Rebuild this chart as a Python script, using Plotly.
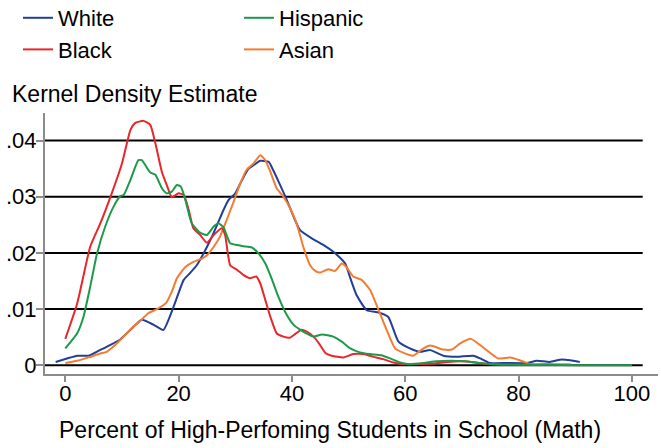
import plotly.graph_objects as go

# ---------------- data ----------------
white_x = [-1.7, 0.3, 2.1, 4.1, 5.9, 7.9, 9.7, 11.8, 13.5, 15.6, 17.3, 19.1, 20.9, 22.0, 23.2, 24.4,
           25.6, 26.8, 27.9, 28.8, 30.0, 31.2, 32.3, 33.5, 34.4, 35.9, 36.7, 37.9, 39.1, 40.3, 41.4,
           43.5, 45.6, 47.3, 49.4, 50.3, 51.4, 53.2, 55.3, 57.0, 58.8, 60.8, 62.6, 64.4, 66.7, 69.1,
           72.0, 73.5, 75.0, 78.0, 81.4, 83.2, 85.5, 87.3, 89.1, 90.8]
white_y = [.0006, .0012, .0017, .0017, .0026, .0036, .0046, .0066, .0081, .0072, .0063, .0104, .0152,
           .0164, .0178, .0199, .0223, .0250, .0276, .0294, .0306, .0330, .0349, .0358, .0364, .0362,
           .0347, .0321, .0294, .0264, .0241, .0226, .0214, .0202, .0181, .0155, .0125, .0098, .0094,
           .0086, .0042, .0030, .0024, .0027, .0017, .0015, .0017, .0011, .0004, .0004, .0004, .0008,
           .0006, .0010, .0009, .0006]

black_x = [0, 2.1, 4.4, 6.2, 8.2, 10.0, 11.5, 12.3, 13.8, 15.0, 15.9, 17.05, 17.9, 18.8, 20.0, 20.9,
           21.8, 22.6, 23.8, 25.0, 26.2, 27.6, 28.2, 29.1, 30.3, 31.4, 32.6, 33.7, 34.4, 35.3, 36.2,
           37.3, 38.5, 39.6, 40.6, 41.6, 42.6, 43.8, 44.7, 45.9, 47.0, 49.1, 50.8, 52.6, 54.4, 56.1,
           57.9, 59.7, 62.0, 65.0, 67.5, 70.0, 72.5, 75.0, 78.0, 82.0, 86.0]
black_y = [.0047, .0110, .0211, .0253, .0306, .0359, .0419, .0431, .0435, .0428, .0395, .0344, .0321,
           .0299, .0306, .0303, .0276, .0244, .0232, .0218, .0232, .0244, .0232, .0178, .0170, .0161,
           .0155, .0158, .0146, .0116, .0086, .0057, .0051, .0049, .0056, .0063, .0060, .0051, .0040,
           .0022, .0017, .0014, .0020, .0020, .0015, .0011, .0005, .0002, .0002, .0003, .0006, .0007,
           .0005, .0002, .0001, .0001, .0001]

hisp_x = [0, 2.1, 3.2, 4.4, 5.6, 7.05, 8.5, 9.7, 10.3, 11.5, 12.9, 13.5, 15.0, 15.9, 17.05, 17.9,
          18.8, 19.7, 20.4, 21.2, 22.3, 23.8, 25.0, 26.2, 27.0, 27.9, 29.1, 30.3, 31.4, 32.9, 34.1,
          35.3, 36.5, 37.6, 38.8, 40.3, 41.5, 42.5, 43.8, 45.3, 47.3, 48.8, 50.3, 52.0, 53.8, 55.8,
          57.6, 59.4, 60.8, 63.2, 65.5, 68.0, 70.5, 73.0, 76.0, 80.0, 85.0, 90.0, 95.0, 100.0]
hisp_y = [.0030, .0057, .0086, .0140, .0199, .0247, .0282, .0301, .0303, .0330, .0365, .0365, .0343,
          .0339, .0315, .0306, .0309, .0321, .0318, .0294, .0253, .0236, .0232, .0247, .0253, .0246,
          .0217, .0214, .0212, .0210, .0199, .0181, .0152, .0122, .0095, .0072, .0063, .0057, .0051,
          .0055, .0051, .0042, .0030, .0023, .0020, .0018, .0011, .0004, .0002, .0004, .0007, .0008,
          .0007, .0004, .0002, .0001, .0001, 0.0, 0.0, 0.0]

asian_x = [0, 2.1, 4.1, 6.2, 7.3, 8.8, 10.3, 12.0, 13.2, 14.7, 16.2, 17.8, 18.8, 19.7, 21.2, 22.6,
           24.1, 25.0, 26.2, 27.3, 28.5, 29.7, 30.9, 32.0, 33.2, 34.4, 35.3, 36.2, 37.3, 38.5, 39.7,
           40.9, 42.0, 43.2, 44.1, 45.0, 46.4, 47.6, 48.8, 49.6, 50.8, 52.3, 53.8, 55.3, 56.7, 58.2,
           59.7, 61.4, 62.9, 64.4, 66.7, 68.2, 69.7, 71.6, 73.2, 75.0, 76.4, 78.5, 80.2, 82.0, 85.5,
           89.2]
asian_y = [.0004, .0008, .0014, .0021, .0024, .0036, .0051, .0069, .0079, .0093, .0100, .0111, .0131,
           .0155, .0175, .0184, .0190, .0196, .0211, .0229, .0259, .0291, .0324, .0348, .0359, .0374,
           .0365, .0344, .0315, .0300, .0279, .0250, .0211, .0178, .0168, .0165, .0171, .0168, .0181,
           .0175, .0158, .0152, .0134, .0098, .0063, .0030, .0022, .0017, .0028, .0035, .0028, .0028,
           .0039, .0047, .0036, .0022, .0012, .0014, .0009, .0002, .0002, .0002]

x_ticks = [0, 20, 40, 60, 80, 100]
y_ticks = [0, 0.01, 0.02, 0.03, 0.04]
y_ticktext = ["0", ".01", ".02", ".03", ".04"]

x_title = "Percent of High-Perfoming Students in School (Math)"
y_title = "Kernel Density Estimate"

# ---------------- style ----------------
FONT = "Liberation Sans, Arial, sans-serif"
FS = 22
C_WHITE = "#223f98"
C_BLACK = "#e8262b"
C_HISP = "#1c9a4a"
C_ASIAN = "#f47b30"
AXIS_GRAY = "#8c8c8c"

X_RANGE = [-3.58, 104.6]
Y_RANGE = [-0.00155, 0.0449]
GRID_END = 101.9

ML, MT, MB, MR = 45, 113, 74, 3
PW, PH = 661 - ML - MR, 448 - MT - MB


def px_x(px):
    return (px - ML) / PW


def px_y(py):
    return 1 + (MT - py) / PH


fig = go.Figure()

series = [
    ("White", white_x, white_y, C_WHITE, "legend", 1),
    ("Asian", asian_x, asian_y, C_ASIAN, "legend2", 2),
    ("Black", black_x, black_y, C_BLACK, "legend", 2),
    ("Hispanic", hisp_x, hisp_y, C_HISP, "legend2", 1),
]
for name, xs, ys, col, leg, rank in series:
    fig.add_trace(go.Scatter(
        x=xs, y=ys, mode="lines", name=name,
        line=dict(color=col, width=2, shape="spline", smoothing=0.5),
        legend=leg, legendrank=rank,
    ))

# horizontal grid lines (black) that stop just beyond x = 100
for v in y_ticks:
    fig.add_shape(type="line", xref="x", yref="y", x0=X_RANGE[0], x1=GRID_END, y0=v, y1=v,
                  line=dict(color="black", width=2), layer="below")

legend_common = dict(
    orientation="v", xref="paper", yref="paper",
    xanchor="left", yanchor="top", bgcolor="rgba(0,0,0,0)",
    font=dict(family=FONT, size=FS, color="black"),
    traceorder="normal",
)

fig.update_layout(
    width=661, height=448,
    margin=dict(l=ML, r=MR, t=MT, b=MB, autoexpand=False),
    paper_bgcolor="white", plot_bgcolor="white",
    font=dict(family=FONT, size=FS, color="black"),
    showlegend=True,
    legend=dict(x=px_x(18), y=px_y(-3), **legend_common),
    legend2=dict(x=px_x(239), y=px_y(-3), **legend_common),
    xaxis=dict(
        range=X_RANGE, tickmode="array", tickvals=x_ticks, automargin=False,
        ticks="outside", ticklen=6, tickwidth=1.5, tickcolor=AXIS_GRAY,
        showline=True, linecolor=AXIS_GRAY, linewidth=2,
        showgrid=False, zeroline=False, ticklabelstandoff=-7,
        tickfont=dict(family=FONT, size=FS, color="black"),
    ),
    yaxis=dict(
        range=Y_RANGE, tickmode="array", tickvals=y_ticks, ticktext=y_ticktext, automargin=False,
        ticks="outside", ticklen=7, tickwidth=1.5, tickcolor=AXIS_GRAY,
        showline=True, linecolor=AXIS_GRAY, linewidth=2,
        showgrid=False, zeroline=False, ticklabelstandoff=-5,
        tickfont=dict(family=FONT, size=FS, color="black"),
    ),
    annotations=[
        dict(text=y_title, xref="paper", yref="paper",
             x=px_x(10), y=px_y(94), xanchor="left", yanchor="middle",
             showarrow=False, font=dict(family=FONT, size=FS + 1, color="black")),
        dict(text=x_title, xref="paper", yref="paper",
             x=px_x(330), y=px_y(430), xanchor="center", yanchor="middle",
             showarrow=False, font=dict(family=FONT, size=FS + 1, color="black")),
    ],
)

fig.write_html("out.html", config={"displayModeBar": False},
               post_script="document.body.style.margin='0';")
